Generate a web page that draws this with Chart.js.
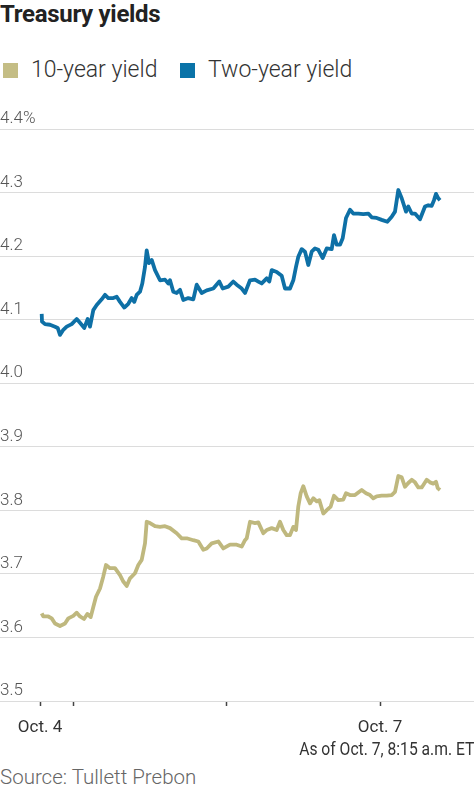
<!DOCTYPE html>
<html>
<head>
<meta charset="utf-8">
<script src="https://cdn.jsdelivr.net/npm/chart.js@4.4.1/dist/chart.umd.min.js"></script>
<style>
  html, body { margin: 0; padding: 0; background: #fff; }
  body { width: 474px; height: 790px; position: relative; overflow: hidden; font-family: Roboto, "Noto Sans", sans-serif; }
  .title { position: absolute; left: 0; top: 0; font-size: 24px; font-weight: 700; color: #222; letter-spacing: -0.3px; }
  .legend { position: absolute; left: 0; top: 56px; font-size: 23px; font-weight: 300; color: #333; white-space: nowrap; }
  .legend span.item { position: absolute; top: 0; }
  .legend i { position: absolute; top: 7px; width: 15px; height: 15px; }
  .chart-box { position: absolute; left: 0; top: 100px; width: 474px; height: 640px; }
  .asof { position: absolute; right: 0; top: 738px; font-size: 18px; color: #333; transform: scaleX(0.87); transform-origin: right; white-space: nowrap; }
  .source { position: absolute; left: 0; top: 765px; font-size: 20.5px; font-weight: 300; color: #666; }
</style>
</head>
<body>
<div class="title">Treasury yields</div>
<div class="legend">
  <i style="left:3px;background:#c4bd85"></i><span class="item" style="left:31px">10-year yield</span>
  <i style="left:180px;background:#0a73a8"></i><span class="item" style="left:208px">Two-year yield</span>
</div>
<div class="chart-box"><canvas id="chart"></canvas></div>
<div class="asof">As of Oct. 7, 8:15 a.m. ET</div>
<div class="source">Source: Tullett Prebon</div>
<script>
'use strict';

// time axis in hours-ish units, Oct. 4 tick at 0
const tickTimes = [0, 3.33, 18.67, 34.0];
const tickLabels = ['Oct. 4', '', '', 'Oct. 7'];
const yTicks = [3.5, 3.6, 3.7, 3.8, 3.9, 4.0, 4.1, 4.2, 4.3, 4.4];

const twoYearTimes = [0.17, 0.2, 0.5, 1.0, 1.5, 1.77, 2.0, 2.33, 2.67, 3.17, 3.67, 4.0, 4.43, 4.77, 5.0,
  5.33, 5.67, 6.17, 6.5, 6.83, 7.33, 7.67, 8.0, 8.43, 8.83, 9.17, 9.43, 9.67, 10.0, 10.23, 10.5, 10.67,
  10.9, 11.17, 11.5, 12.0, 12.5, 12.83, 13.0, 13.33, 13.67, 14.0, 14.33, 14.83, 15.33, 15.67, 16.17,
  16.67, 17.33, 17.93, 18.27, 18.83, 19.33, 19.67, 20.17, 20.5, 21.0, 21.5, 21.83, 22.17, 22.67, 22.93,
  23.17, 23.67, 24.17, 24.5, 25.0, 25.33, 25.6, 25.83, 26.17, 26.5, 26.83, 27.17, 27.5, 27.83, 28.27,
  28.67, 29.17, 29.4, 29.67, 30.0, 30.27, 30.6, 31.0, 31.33, 31.83, 32.33, 32.83, 33.17, 33.67, 34.17,
  34.73, 35.17, 35.5, 35.83, 36.17, 36.6, 36.83, 37.17, 37.5, 38.0, 38.5, 38.83, 39.17, 39.4, 39.6,
  39.83, 40.0];
const twoYearValues = [4.109, 4.097, 4.093, 4.092, 4.089, 4.087, 4.076, 4.084, 4.089, 4.093, 4.101, 4.095,
  4.087, 4.101, 4.089, 4.115, 4.123, 4.132, 4.139, 4.134, 4.134, 4.136, 4.128, 4.119, 4.125, 4.134, 4.128,
  4.139, 4.144, 4.157, 4.183, 4.209, 4.189, 4.194, 4.178, 4.162, 4.163, 4.157, 4.162, 4.144, 4.142, 4.147,
  4.131, 4.134, 4.132, 4.155, 4.142, 4.146, 4.149, 4.160, 4.149, 4.152, 4.160, 4.155, 4.149, 4.142, 4.162,
  4.163, 4.160, 4.157, 4.165, 4.160, 4.178, 4.175, 4.169, 4.149, 4.149, 4.162, 4.183, 4.199, 4.211, 4.207,
  4.186, 4.207, 4.212, 4.210, 4.197, 4.212, 4.211, 4.233, 4.218, 4.218, 4.228, 4.260, 4.273, 4.267, 4.267,
  4.266, 4.267, 4.261, 4.260, 4.257, 4.254, 4.262, 4.270, 4.304, 4.291, 4.270, 4.278, 4.267, 4.267, 4.258,
  4.278, 4.280, 4.279, 4.288, 4.298, 4.291, 4.288];

const tenYearTimes = [0.17, 0.33, 0.83, 1.17, 1.5, 2.0, 2.5, 2.83, 3.33, 3.67, 4.0, 4.4, 4.73, 5.07, 5.33,
  5.6, 6.0, 6.33, 6.6, 7.0, 7.5, 8.0, 8.33, 8.67, 9.0, 9.5, 9.83, 10.17, 10.5, 10.67, 11.0, 11.5, 12.0,
  12.5, 13.0, 13.67, 14.17, 14.67, 15.33, 15.83, 16.33, 16.67, 17.17, 17.83, 18.33, 19.0, 19.67, 20.17,
  20.5, 20.67, 21.0, 21.5, 21.83, 22.33, 22.67, 23.17, 23.67, 24.0, 24.33, 24.67, 25.0, 25.33, 25.6,
  25.83, 26.07, 26.33, 26.67, 27.0, 27.33, 27.67, 27.93, 28.33, 28.73, 29.07, 29.4, 29.83, 30.33, 30.6,
  31.0, 31.5, 31.83, 32.17, 32.6, 33.0, 33.33, 33.67, 34.17, 34.67, 35.17, 35.5, 35.83, 36.17, 36.5,
  36.83, 37.17, 37.5, 37.83, 38.17, 38.67, 39.0, 39.33, 39.6, 39.77, 40.0];
const tenYearValues = [3.638, 3.633, 3.633, 3.630, 3.622, 3.618, 3.622, 3.630, 3.634, 3.639, 3.633, 3.629,
  3.637, 3.632, 3.648, 3.664, 3.677, 3.696, 3.714, 3.709, 3.709, 3.698, 3.688, 3.681, 3.693, 3.701, 3.714,
  3.722, 3.748, 3.782, 3.780, 3.775, 3.774, 3.775, 3.772, 3.764, 3.756, 3.756, 3.753, 3.751, 3.738, 3.740,
  3.748, 3.751, 3.740, 3.746, 3.746, 3.743, 3.753, 3.756, 3.782, 3.780, 3.781, 3.764, 3.769, 3.772, 3.769,
  3.782, 3.769, 3.761, 3.761, 3.774, 3.769, 3.806, 3.827, 3.838, 3.822, 3.811, 3.819, 3.814, 3.816, 3.795,
  3.801, 3.806, 3.823, 3.816, 3.817, 3.827, 3.824, 3.824, 3.828, 3.832, 3.827, 3.824, 3.819, 3.822, 3.823,
  3.823, 3.824, 3.829, 3.854, 3.852, 3.837, 3.843, 3.848, 3.844, 3.836, 3.836, 3.848, 3.844, 3.842, 3.845,
  3.835, 3.832];

const pairs = (xs, ys) => xs.map((x, i) => ({ x, y: ys[i] }));

const labelFont = 'Roboto, "Noto Sans", sans-serif';

new Chart(document.getElementById('chart'), {
  type: 'line',
  data: {
    datasets: [
      {
        label: '10-year yield',
        data: pairs(tenYearTimes, tenYearValues),
        borderColor: '#bfb87e',
        borderWidth: 3.8,
        pointRadius: 0,
        tension: 0,
        borderJoinStyle: 'round'
      },
      {
        label: 'Two-year yield',
        data: pairs(twoYearTimes, twoYearValues),
        borderColor: '#0e70a6',
        borderWidth: 3.8,
        pointRadius: 0,
        tension: 0,
        borderJoinStyle: 'round'
      }
    ]
  },
  options: {
    responsive: true,
    maintainAspectRatio: false,
    animation: false,
    layout: { padding: { top: 29, left: 0, right: 0, bottom: 0 } },
    plugins: { legend: { display: false }, tooltip: { enabled: false } },
    scales: {
      x: {
        type: 'linear',
        min: -4.0,
        max: 43.4,
        afterBuildTicks: (scale) => { scale.ticks = tickTimes.map(v => ({ value: v })); },
        afterFit: (scale) => { scale.height = 39; },
        grid: { drawOnChartArea: false, drawTicks: true, tickLength: 5, tickColor: '#444', tickWidth: 1.5 },
        border: { display: false },
        ticks: {
          autoSkip: false,
          maxRotation: 0,
          padding: 12,
          color: '#333',
          font: { family: labelFont, size: 17 },
          callback: (v, i) => tickLabels[i]
        }
      },
      y: {
        min: 3.5,
        max: 4.4,
        afterBuildTicks: (scale) => { scale.ticks = yTicks.map(v => ({ value: v })); },
        afterFit: (scale) => { scale.width = 0; },
        grid: { color: '#dcdcdc', lineWidth: 1, drawTicks: false },
        border: { display: false },
        ticks: {
          mirror: true,
          padding: 0,
          labelOffset: -10,
          color: '#555',
          font: { family: labelFont, size: 17, weight: '300' },
          callback: (v) => v.toFixed(1) + (v === 4.4 ? '%' : '')
        }
      }
    }
  }
});
</script>
</body>
</html>
